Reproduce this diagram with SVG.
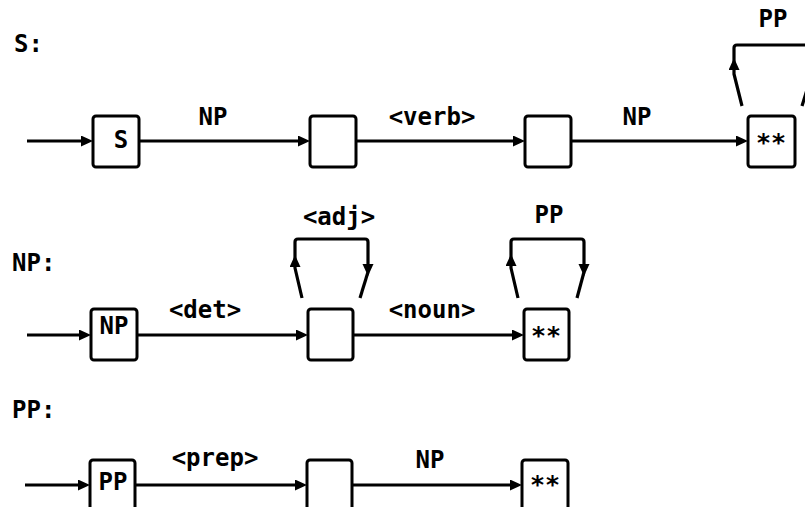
<svg xmlns="http://www.w3.org/2000/svg" width="805" height="507" viewBox="0 0 805 507">
<style>
text{font-family:"DejaVu Sans Mono","Liberation Mono",monospace;font-weight:bold;font-size:24px;fill:#000}
.m{text-anchor:middle}
.st{font-size:25px}
.box{fill:#fff;stroke:#000;stroke-width:3}
.c{fill:none;stroke:#000;stroke-width:3.2;stroke-linejoin:round}
.ar{marker-end:url(#a)}
</style>
<defs>
<marker id="a" markerUnits="userSpaceOnUse" markerWidth="14" markerHeight="12" refX="7" refY="5.5" orient="auto">
<path d="M0,0 L12,5.5 L0,11 z" fill="#000"/>
</marker>
</defs>
<rect width="805" height="507" fill="#fff"/>
<text x="14" y="52">S:</text>
<text x="12" y="271">NP:</text>
<text x="12" y="418">PP:</text>
<g id="connectors">
<path class="c ar" d="M27,141 H88"/>
<path class="c ar" d="M139,141 H305"/>
<path class="c ar" d="M356,141 H520"/>
<path class="c ar" d="M571,141 H743"/>
<path class="c ar" d="M742,106 L734,74 L734,63"/>
<path class="c" d="M734,64 L734,48 Q734,45 737,45 L807,45 Q810,45 810,48 L810,80 L802,106"/>
<path class="c ar" d="M27,335 H86"/>
<path class="c ar" d="M137,335 H303"/>
<path class="c ar" d="M353,335 H519"/>
<path class="c ar" d="M302,298 L295,268 L295,260"/>
<path class="c" d="M295,261 L295,242 Q295,239 298,239 L365,239 Q368,239 368,242 L368,268"/>
<path class="c ar" d="M368,266 L368,271"/>
<path class="c" d="M368,272 L360,298"/>
<path class="c ar" d="M518,298 L511,268 L511,259"/>
<path class="c" d="M511,260 L511,242 Q511,239 514,239 L581,239 Q584,239 584,242 L584,268"/>
<path class="c ar" d="M584,266 L584,271"/>
<path class="c" d="M584,272 L577,298"/>
<path class="c ar" d="M25,485 H85"/>
<path class="c ar" d="M135,485 H302"/>
<path class="c ar" d="M352,485 H517"/>
<text class="m" x="213" y="125">NP</text>
<text class="m" x="432" y="125">&lt;verb&gt;</text>
<text class="m" x="637" y="125">NP</text>
<text class="m" x="773" y="27">PP</text>
<text class="m" x="339" y="225">&lt;adj&gt;</text>
<text class="m" x="205" y="318">&lt;det&gt;</text>
<text class="m" x="432" y="318">&lt;noun&gt;</text>
<text class="m" x="549" y="223">PP</text>
<text class="m" x="215" y="466">&lt;prep&gt;</text>
<text class="m" x="430" y="468">NP</text>
</g>
<g id="s1"><rect class="box" x="93" y="116" width="46" height="51" rx="3"/><text class="m" x="121" y="148">S</text></g>
<g id="s2"><rect class="box" x="310" y="116" width="46" height="51" rx="3"/></g>
<g id="s3"><rect class="box" x="525" y="116" width="46" height="51" rx="3"/></g>
<g id="s4"><rect class="box" x="748" y="116" width="47" height="51" rx="3"/><text class="m st" x="771" y="151">**</text></g>
<g id="np1"><rect class="box" x="91" y="309" width="46" height="51" rx="3"/><text class="m" x="114" y="334">NP</text></g>
<g id="np2"><rect class="box" x="308" y="309" width="45" height="51" rx="3"/></g>
<g id="np3"><rect class="box" x="524" y="309" width="45" height="51" rx="3"/><text class="m st" x="546" y="344">**</text></g>
<g id="pp1"><rect class="box" x="90" y="460" width="45" height="52" rx="3"/><text class="m" x="113" y="490">PP</text></g>
<g id="pp2"><rect class="box" x="307" y="460" width="45" height="52" rx="3"/></g>
<g id="pp3"><rect class="box" x="522" y="460" width="46" height="52" rx="3"/><text class="m st" x="545" y="493">**</text></g>
</svg>
